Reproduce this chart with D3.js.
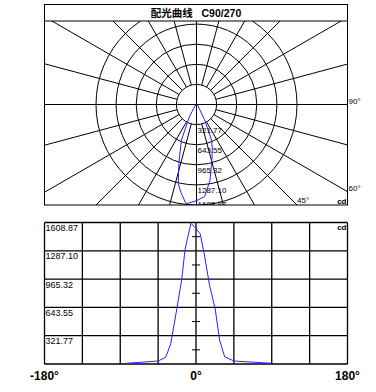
<!DOCTYPE html>
<html>
<head>
<meta charset="utf-8">
<script src="https://cdn.jsdelivr.net/npm/d3@7"></script>
<style>
  body { margin: 0; background: #fff; }
  text { font-family: "Liberation Sans", Arial, "Noto Sans CJK SC", sans-serif; }
</style>
</head>
<body>
<div id="chart"></div>
<script>
// luminous intensity (cd), C90/270 plane
const angles    = [-90, -45, -36, -30, -23, -17, -13, -10, -6, 0, 5, 10, 16, 20, 23, 28, 34, 45, 90];
const intensity = [3, 34, 76, 230, 615, 960, 1300, 1431, 1600, 1540, 1480, 1240, 900, 740, 615, 273, 83, 34, 8];

const maxCd = 1608.87;
const cdTicks = [321.77, 643.55, 965.32, 1287.10, 1608.87];
const xTicks = [-180, -135, -90, -45, 0, 45, 90, 135, 180];
const xLabels = [[-180, "-180°"], [0, "0°"], [180, "180°"]];
const polarLabels = [[90, "90°"], [60, "60°"], [45, "45°"]];
const title = "配光曲线   C90/270";

const width = 376, height = 392;

const svg = d3.select("#chart")
    .append("svg")
    .attr("width", width)
    .attr("height", height);

// ---------- polar panel ----------
const box = { x0: 44.5, x1: 347.5, y0: 4.5, ySep: 21, y1: 205 };
const cx = 196.5, cy = 104.5;

const r = d3.scaleLinear().domain([0, maxCd]).range([0, 100.5]);

svg.append("clipPath").attr("id", "polarClip")
    .append("rect")
    .attr("x", box.x0).attr("y", box.ySep)
    .attr("width", box.x1 - box.x0).attr("height", box.y1 - box.ySep);

const polar = svg.append("g").attr("clip-path", "url(#polarClip)");

// point at angle a (deg, 0 = straight down) and radius rr
function pt(a, rr) {
    const t = a * Math.PI / 180;
    return [cx + rr * Math.sin(t), cy + rr * Math.cos(t)];
}

polar.selectAll(".ring")
    .data(cdTicks)
    .join("circle")
    .attr("cx", cx).attr("cy", cy)
    .attr("r", d => r(d))
    .attr("fill", "none")
    .attr("stroke", "#000")
    .attr("stroke-width", 1);

polar.selectAll(".spoke")
    .data(d3.range(0, 360, 15))
    .join("line")
    .attr("x1", d => pt(d, d % 90 === 0 ? 0 : r(cdTicks[0]))[0])
    .attr("y1", d => pt(d, d % 90 === 0 ? 0 : r(cdTicks[0]))[1])
    .attr("x2", d => pt(d, 400)[0])
    .attr("y2", d => pt(d, 400)[1])
    .attr("stroke", "#000")
    .attr("stroke-width", 1);

polar.append("path")
    .datum(angles.map((a, i) => pt(a, r(intensity[i]))))
    .attr("fill", "none")
    .attr("stroke", "#2323ff")
    .attr("stroke-width", 1)
    .attr("d", d3.line());

polar.selectAll(".rlab")
    .data(cdTicks)
    .join("text")
    .attr("x", cx + 1)
    .attr("y", d => Math.min(cy + r(d) + 8, box.y1 + 2))
    .attr("font-size", 8)
    .text(d => d.toFixed(2));

svg.append("rect")
    .attr("x", box.x0).attr("y", box.y0)
    .attr("width", box.x1 - box.x0).attr("height", box.y1 - box.y0)
    .attr("fill", "none").attr("stroke", "#000").attr("stroke-width", 1);
svg.append("line")
    .attr("x1", box.x0).attr("x2", box.x1)
    .attr("y1", box.ySep).attr("y2", box.ySep)
    .attr("stroke", "#000");

svg.append("text")
    .attr("x", 196).attr("y", 17)
    .attr("text-anchor", "middle")
    .attr("font-size", 10.5)
    .attr("font-weight", "bold")
    .style("white-space", "pre")
    .text(title);

// angle labels where the spoke meets the frame
polarLabels.forEach(([a, txt]) => {
    const t = a * Math.PI / 180;
    let x, y;
    const yRight = cy + (box.x1 - cx) / Math.tan(t);
    if (yRight <= box.y1) { x = box.x1 + 1; y = yRight - 1; }
    else { x = cx + (box.y1 - cy) * Math.tan(t); y = box.y1 - 2; }
    svg.append("text")
        .attr("x", x).attr("y", y)
        .attr("font-size", 8)
        .text(txt);
});

svg.append("text")
    .attr("x", box.x1 - 1).attr("y", box.y1 - 1.5)
    .attr("text-anchor", "end")
    .attr("font-size", 8)
    .attr("font-weight", "bold")
    .text("cd");

// ---------- linear panel ----------
const x = d3.scaleLinear().domain([-180, 180]).range([44.5, 347.5]);
const y = d3.scaleLinear().domain([0, maxCd]).range([364, 222.5]);

const lin = svg.append("g");

lin.selectAll(".vgrid")
    .data(xTicks)
    .join("line")
    .attr("x1", d => x(d)).attr("x2", d => x(d))
    .attr("y1", y(0)).attr("y2", y(maxCd))
    .attr("stroke", "#000").attr("stroke-width", 1.3);

lin.selectAll(".hgrid")
    .data([0].concat(cdTicks))
    .join("line")
    .attr("x1", x(-180)).attr("x2", x(180))
    .attr("y1", d => y(d)).attr("y2", d => y(d))
    .attr("stroke", "#000").attr("stroke-width", 1.3);

// small ticks on the 0° line, half way between grid lines
lin.selectAll(".midtick")
    .data(cdTicks.map(d => d - cdTicks[0] / 2))
    .join("line")
    .attr("x1", x(0) - 4).attr("x2", x(0) + 4)
    .attr("y1", d => y(d)).attr("y2", d => y(d))
    .attr("stroke", "#000").attr("stroke-width", 1);

lin.append("path")
    .datum(angles.map((a, i) => [x(a), y(intensity[i])]))
    .attr("fill", "none")
    .attr("stroke", "#2323ff")
    .attr("stroke-width", 1)
    .attr("d", d3.line());

lin.selectAll(".ylab")
    .data(cdTicks)
    .join("text")
    .attr("x", x(-180) + 1)
    .attr("y", d => y(d) + 8.5)
    .attr("font-size", 9)
    .text(d => d.toFixed(2));

lin.append("text")
    .attr("x", x(180) - 1).attr("y", y(maxCd) + 7.5)
    .attr("text-anchor", "end")
    .attr("font-size", 8)
    .attr("font-weight", "bold")
    .text("cd");

lin.selectAll(".xlab")
    .data(xLabels)
    .join("text")
    .attr("x", d => x(d[0]))
    .attr("y", 380)
    .attr("text-anchor", "middle")
    .attr("font-size", 12)
    .attr("font-weight", "bold")
    .text(d => d[1]);
</script>
</body>
</html>
